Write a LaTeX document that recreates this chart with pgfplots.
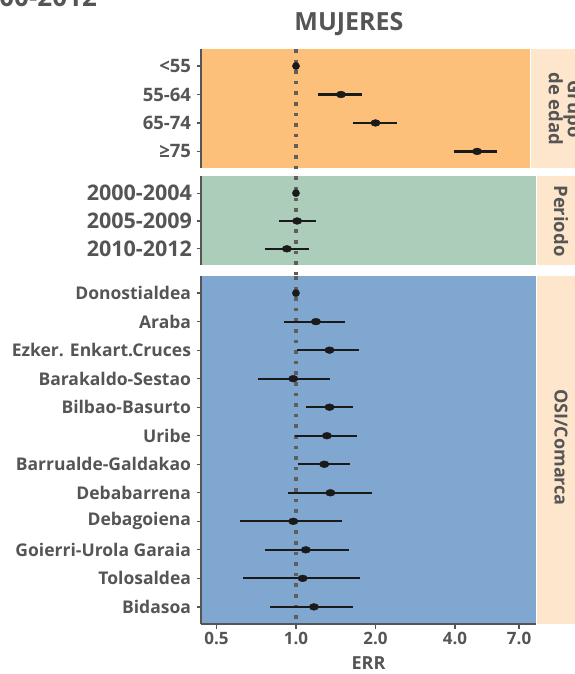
\documentclass[border=0pt]{standalone}
\usepackage{pgfplots}
\pgfplotsset{compat=1.18}
\usepackage{fontspec}
\setmainfont{Open Sans}
\definecolor{txt}{HTML}{555555}
\definecolor{axisgray}{HTML}{555555}
\definecolor{pedad}{HTML}{FDC07A}
\definecolor{pper}{HTML}{ABCDB9}
\definecolor{posi}{HTML}{7FA7CF}
\definecolor{strip}{HTML}{FEE6CC}
\definecolor{pt}{HTML}{1A1A1A}
\definecolor{refc}{HTML}{5E5E5E}
\pgfplotsset{
  myaxis/.style={
    scale only axis,
    xmin=0.437,
    y dir=reverse,
    ymin=0.4,
    axis y line*=left,
    axis line style={draw=axisgray, line width=2.4bp},
    tick align=outside,
    major tick length=4.5bp,
    every tick/.style={draw=axisgray, line width=1.3bp},
    xminorticks=false, yminorticks=false,
    xtick={0.5,1,2,4,7},
    xticklabels={0.5,1.0,2.0,4.0,7.0},
    xticklabel style={font=\bfseries\fontsize{17bp}{20bp}\selectfont, text=txt},
    clip=false,
  },
  myref/.style={draw=refc, line width=3.6bp, dash pattern=on 3.6bp off 7bp},
  myci/.style={draw=pt, line width=2.2bp, mark=none},
  mypt/.style={only marks, mark=*, mark size=3.4bp, mark options={xscale=1.4, fill=pt, draw=pt}},
  mypt0/.style={only marks, mark=*, mark size=3.6bp, mark options={fill=pt, draw=pt}},
}
\begin{document}
\begin{tikzpicture}[x=1bp,y=1bp]
\useasboundingbox (0,0) rectangle (575,674);
% clipped main title (only its lower edge is visible)
\node[anchor=base east, inner sep=0, font=\bfseries\fontsize{26bp}{30bp}\selectfont, text=txt] at (97,667.5) {2000-2012};
\node[anchor=base, inner sep=0, font=\bfseries\fontsize{25bp}{29bp}\selectfont, text=txt] at (349,643) {MUJERES};
% strips
\fill[strip] (531,505.5) rectangle (600,625);
\fill[strip] (537,408.5) rectangle (600,497.5);
\fill[strip] (537,50) rectangle (600,398);
\node[rotate=-90, align=center, font=\bfseries\fontsize{18.5bp}{19bp}\selectfont, text=txt] at (565,565) {Grupo\\de edad};
\node[rotate=-90, font=\bfseries\fontsize{18.5bp}{20bp}\selectfont, text=txt] at (561,453) {Periodo};
\node[rotate=-90, font=\bfseries\fontsize{18bp}{20bp}\selectfont, text=txt] at (561,226.5) {OSI/Comarca};

% ---------- Grupo de edad ----------
\begin{axis}[myaxis, xmode=log,
  at={(201bp,505.5bp)}, anchor=south west,
  width=329bp, height=119.5bp,
  xmax=7.69, ymax=4.6,
  axis x line=none,
  axis background/.style={fill=pedad},
  ytick={1,2,3,4},
  yticklabels={<55,55-64,65-74,≥75},
  yticklabel style={font=\bfseries\fontsize{18.5bp}{20bp}\selectfont, text=txt, xshift=-2bp},
]
\addplot[myref] coordinates {(1,0.4) (1,4.88)};
\addplot[myci] coordinates {(1.21,2) (1.78,2)};
\addplot[myci] coordinates {(1.64,3) (2.41,3)};
\addplot[myci] coordinates {(3.97,4) (5.77,4)};
\addplot[mypt0] coordinates {(1.00,1)};
\addplot[mypt] coordinates {(1.48,2) (2.00,3) (4.85,4)};
\end{axis}

% ---------- Periodo ----------
\begin{axis}[myaxis, xmode=log,
  at={(201bp,408.5bp)}, anchor=south west,
  width=335bp, height=89bp,
  xmax=8.11, ymax=3.6,
  axis x line=none,
  axis background/.style={fill=pper},
  ytick={1,2,3},
  yticklabels={2000-2004,2005-2009,2010-2012},
  yticklabel style={font=\bfseries\fontsize{21.5bp}{24bp}\selectfont, text=txt, xshift=-1bp},
]
\addplot[myref] coordinates {(1,0.4) (1,3.99)};
\addplot[myci] coordinates {(0.862,2) (1.19,2)};
\addplot[myci] coordinates {(0.763,3) (1.12,3)};
\addplot[mypt0] coordinates {(1.00,1)};
\addplot[mypt] coordinates {(1.01,2) (0.924,3)};
\end{axis}

% ---------- OSI/Comarca ----------
\begin{axis}[myaxis, xmode=log,
  at={(201bp,50bp)}, anchor=south west,
  width=335bp, height=348bp,
  xmax=8.11, ymax=12.6,
  axis x line*=bottom,
  axis background/.style={fill=posi},
  ytick={1,...,12},
  yticklabels={Donostialdea,Araba,Ezker. Enkart.Cruces,Barakaldo-Sestao,Bilbao-Basurto,Uribe,Barrualde-Galdakao,Debabarrena,Debagoiena,Goierri-Urola Garaia,Tolosaldea,Bidasoa},
  yticklabel style={font=\bfseries\fontsize{17.5bp}{19bp}\selectfont, text=txt, xshift=-2bp},
  xlabel={ERR},
  xlabel style={font=\bfseries\fontsize{18bp}{20bp}\selectfont, text=txt, yshift=-5bp},
]
\addplot[myref] coordinates {(1,0.4) (1,12.6)};
\addplot[myci] coordinates {(0.90,2) (1.54,2)};
\addplot[myci] coordinates {(1.01,3) (1.73,3)};
\addplot[myci] coordinates {(0.718,4) (1.34,4)};
\addplot[myci] coordinates {(1.09,5) (1.65,5)};
\addplot[myci] coordinates {(0.99,6) (1.70,6)};
\addplot[myci] coordinates {(1.02,7) (1.60,7)};
\addplot[myci] coordinates {(0.935,8) (1.94,8)};
\addplot[myci] coordinates {(0.616,9) (1.50,9)};
\addplot[myci] coordinates {(0.763,10) (1.59,10)};
\addplot[myci] coordinates {(0.632,11) (1.75,11)};
\addplot[myci] coordinates {(0.80,12) (1.64,12)};
\addplot[mypt0] coordinates {(1.00,1)};
\addplot[mypt] coordinates {(1.19,2) (1.34,3) (0.977,4) (1.34,5) (1.31,6) (1.28,7) (1.35,8) (0.977,9) (1.09,10) (1.06,11) (1.17,12)};
\end{axis}
\end{tikzpicture}
\end{document}
